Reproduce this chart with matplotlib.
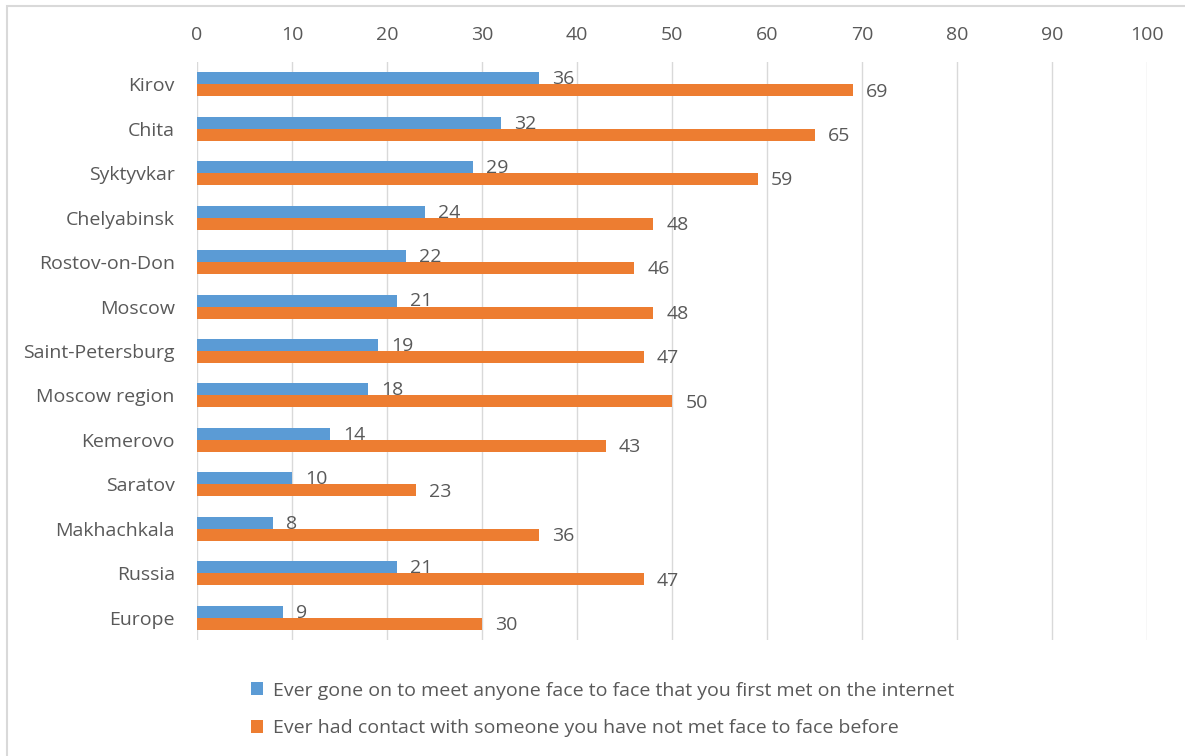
import matplotlib
matplotlib.use("Agg")
import matplotlib.pyplot as plt
import numpy as np
from matplotlib.patches import Rectangle

categories = ["Kirov", "Chita", "Syktyvkar", "Chelyabinsk", "Rostov-on-Don", "Moscow",
              "Saint-Petersburg", "Moscow region", "Kemerovo", "Saratov", "Makhachkala",
              "Russia", "Europe"]
met_face = [36, 32, 29, 24, 22, 21, 19, 18, 14, 10, 8, 21, 9]
had_contact = [69, 65, 59, 48, 46, 48, 47, 50, 43, 23, 36, 47, 30]
series_names = ["Ever gone on to meet anyone face to face that you first met on the internet",
                "Ever had contact with someone you have not met face to face before"]
xticks = list(range(0, 101, 10))

plt.rcParams['font.family'] = ['Open Sans', 'DejaVu Sans']
TXT = '#595959'
BLUE = '#5B9BD5'
ORANGE = '#ED7D31'
FS = 14

W, H = 1185, 756
fig = plt.figure(figsize=(W / 100, H / 100), dpi=100)
fig.patches.append(Rectangle((7 / W, -0.1), 1.2, 1 - 6 / H + 0.1, transform=fig.transFigure,
                             fill=False, edgecolor='#D9D9D9', linewidth=1.5))

ax = fig.add_axes([197 / W, 1 - 640 / H, (1147 - 197) / W, (640 - 62) / H])
n = len(categories)
y = np.arange(n)
h = 0.27
ax.barh(y - h / 2, met_face, height=h, color=BLUE, label=series_names[0], zorder=3)
ax.barh(y + h / 2, had_contact, height=h, color=ORANGE, label=series_names[1], zorder=3)

for yi, v in zip(y, met_face):
    ax.text(v + 1.4, yi - h / 2 + 0.02, str(v), va='center', ha='left', fontsize=FS, color=TXT)
for yi, v in zip(y, had_contact):
    ax.text(v + 1.4, yi + h / 2 + 0.03, str(v), va='center', ha='left', fontsize=FS, color=TXT)

ax.set_xlim(0, 100)
ax.set_ylim(n - 0.5, -0.5)
ax.set_xticks(xticks)
ax.set_yticks(y)
ax.set_yticklabels(categories)
ax.xaxis.tick_top()
ax.tick_params(axis='x', length=0, pad=13, labelsize=FS, labelcolor=TXT)
ax.tick_params(axis='y', length=0, pad=16, labelsize=FS, labelcolor=TXT)
ax.grid(axis='x', color='#D9D9D9', linewidth=1, zorder=0)
for s in ax.spines.values():
    s.set_visible(False)

leg = fig.legend(loc='upper left', bbox_to_anchor=(233 / W, 1 - 664 / H), frameon=False,
                 fontsize=FS, handlelength=0.65, handleheight=0.65, handletextpad=0.5,
                 labelspacing=1.0, labelcolor=TXT)

fig.savefig("out.png", dpi=100)
